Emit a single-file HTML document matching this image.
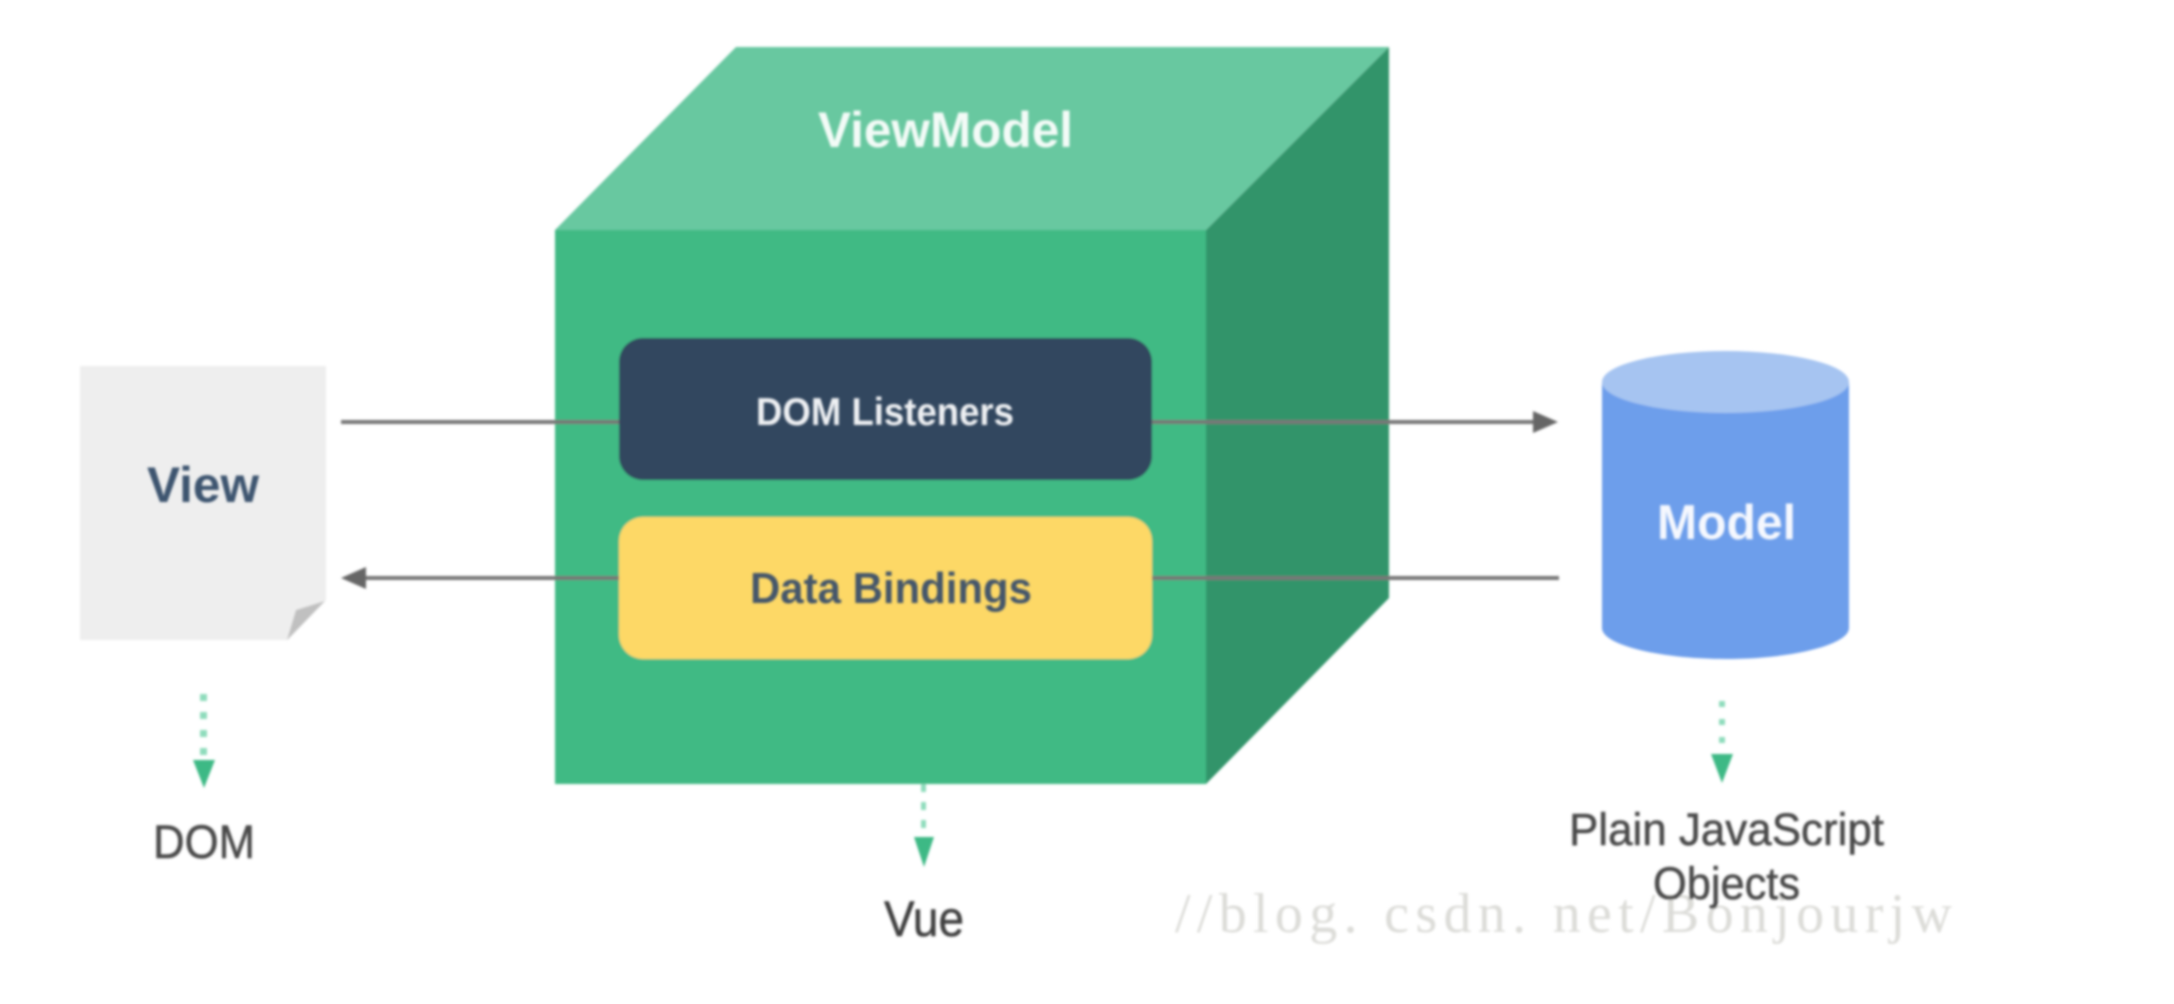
<!DOCTYPE html>
<html>
<head>
<meta charset="utf-8">
<title>MVVM diagram</title>
<style>
html,body{margin:0;padding:0;background:#fff;width:2174px;height:1004px;overflow:hidden}
svg{display:block}
text{font-family:"Liberation Sans",sans-serif}
</style>
</head>
<body>
<svg width="2174" height="1004" viewBox="0 0 2174 1004" xmlns="http://www.w3.org/2000/svg">
<defs>
<filter id="b" x="-5%" y="-5%" width="110%" height="110%"><feGaussianBlur stdDeviation="1.4"/></filter>
<filter id="t" x="-10%" y="-30%" width="120%" height="160%"><feGaussianBlur stdDeviation="1.2"/></filter>
</defs>
<rect width="2174" height="1004" fill="#fff"/>
<g filter="url(#b)">
  <!-- cube -->
  <polygon points="736,47 1389,47 1206,230 555,230" fill="#68c8a0"/>
  <polygon points="1389,47 1389,598 1206,784 1206,230" fill="#33946a"/>
  <rect x="555" y="230" width="651" height="554" fill="#41ba84"/>
  <!-- page -->
  <polygon points="80,366 326,366 326,600 288,640 80,640" fill="#eeeeee"/>
  <polygon points="325,601 296,610 287,640" fill="#c0c0c0"/>
  <!-- cylinder -->
  <path d="M1602,382 L1602,628 C1602,645 1660,659 1725.500,659 C1791,659 1849,645 1849,628 L1849,382 Z" fill="#6d9eeb"/>
  <ellipse cx="1725.500" cy="382" rx="123.500" ry="31" fill="#a6c4f1"/>
  <!-- connectors -->
  <g stroke="#777" stroke-width="4" fill="none">
    <line x1="341" y1="422" x2="620" y2="422"/>
    <line x1="1151" y1="422" x2="1534" y2="422"/>
    <line x1="362" y1="578" x2="620" y2="578"/>
    <line x1="1151" y1="578" x2="1559" y2="578"/>
  </g>
  <polygon points="1558,422 1533,411 1533,433" fill="#666"/>
  <polygon points="341,578 366,567 366,589" fill="#666"/>
  <!-- pills -->
  <rect x="619" y="338" width="533" height="142" rx="24" fill="#31475e"/>
  <rect x="619" y="517" width="533" height="142" rx="24" fill="#fdd866"/>
  <!-- dotted arrows -->
  <g fill="#8fdcbc">
    <rect x="200" y="694" width="7" height="7"/><rect x="200" y="712" width="7" height="7"/><rect x="200" y="730" width="7" height="7"/><rect x="200" y="748" width="7" height="7"/>
    <rect x="1719" y="701" width="6" height="6"/><rect x="1719" y="719" width="6" height="6"/><rect x="1719" y="737" width="6" height="6"/>
    <rect x="921" y="784" width="5" height="8"/><rect x="921" y="802" width="5" height="8"/><rect x="921" y="820" width="5" height="8"/>
  </g>
  <polygon points="193,760 215,760 204,788" fill="#3eb985"/>
  <polygon points="1711,754 1733,754 1722,783" fill="#3eb985"/>
  <polygon points="914,837 934,837 924,867" fill="#3eb985"/>
</g>
<g filter="url(#t)" text-anchor="start">
  <text x="1175" y="932" font-size="56" textLength="777" lengthAdjust="spacing" fill="#dcdcd8" style="font-family:'Liberation Serif',serif">//blog. csdn. net/Bonjourjw</text>
  <text x="818" y="147" font-size="50" font-weight="700" textLength="255" lengthAdjust="spacingAndGlyphs" fill="#f3fbf7">ViewModel</text>
  <text x="756" y="425" font-size="39" font-weight="700" textLength="258" lengthAdjust="spacingAndGlyphs" fill="#eef0f3">DOM Listeners</text>
  <text x="750" y="603" font-size="44" font-weight="700" textLength="282" lengthAdjust="spacingAndGlyphs" fill="#45566a">Data Bindings</text>
  <text x="147" y="502" font-size="50" font-weight="700" textLength="112" lengthAdjust="spacingAndGlyphs" fill="#3d5570">View</text>
  <text x="1657" y="539" font-size="49" font-weight="700" textLength="139" lengthAdjust="spacingAndGlyphs" fill="#f5f8fe">Model</text>
  <text x="153" y="858" font-size="47" textLength="102" lengthAdjust="spacingAndGlyphs" fill="#4a4a4a" stroke="#4a4a4a" stroke-width="0.5">DOM</text>
  <text x="884" y="936" font-size="50" textLength="80" lengthAdjust="spacingAndGlyphs" fill="#3f3f3f" stroke="#3f3f3f" stroke-width="0.5">Vue</text>
  <text x="1569" y="845" font-size="45" textLength="315" lengthAdjust="spacingAndGlyphs" fill="#4a4a4a" stroke="#4a4a4a" stroke-width="0.5">Plain JavaScript</text>
  <text x="1653" y="899" font-size="45" textLength="147" lengthAdjust="spacingAndGlyphs" fill="#4a4a4a" stroke="#4a4a4a" stroke-width="0.5">Objects</text>
</g>
</svg>
</body>
</html>
